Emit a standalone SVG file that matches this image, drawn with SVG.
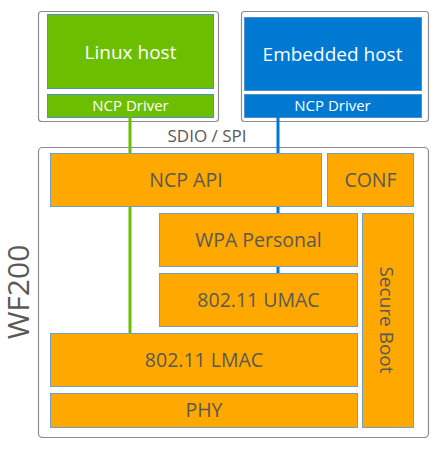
<svg xmlns="http://www.w3.org/2000/svg" width="438" height="449" viewBox="0 0 438 449">
<style>
.frame{fill:#fff;stroke:#8c8c8c;stroke-width:1.2}
.blk{fill:#FFA800;stroke:#6f9fc4;stroke-width:1}
.t{font-family:"Open Sans","Noto Sans",sans-serif;text-anchor:middle;fill:#595959}
.b{font-size:19.5px}
.w{fill:#fff}
.green{fill:#6CBF00;stroke:#4d8fcf;stroke-width:1}
.blue{fill:#0079D3;stroke:#4d8fcf;stroke-width:1}
</style>
<rect width="438" height="449" fill="#fff"/>
<g id="linux-host">
<rect class="frame" x="38.5" y="11.5" width="180" height="110" rx="3"/>
<rect class="green" x="47.5" y="14.5" width="166" height="74"/>
<text class="t w" x="130.5" y="59" font-size="19">Linux host</text>
</g>
<g id="linux-ncp-driver">
<rect class="green" x="47.5" y="94.5" width="166" height="23"/>
<text class="t w" x="130.5" y="111" font-size="15">NCP Driver</text>
</g>
<g id="embedded-host">
<rect class="frame" x="241.5" y="11.5" width="187" height="110" rx="3"/>
<rect class="blue" x="244.5" y="17.5" width="177" height="73"/>
<text class="t w" x="332.5" y="61" font-size="19">Embedded host</text>
</g>
<g id="embedded-ncp-driver">
<rect class="blue" x="244.5" y="94.5" width="177" height="23"/>
<text class="t w" x="332.5" y="111" font-size="15">NCP Driver</text>
</g>
<g id="wf200">
<rect class="frame" x="38.5" y="147.5" width="390" height="290" rx="4"/>
<text class="t" transform="translate(28.5,292) rotate(-90)" font-size="30">WF200</text>
</g>
<g id="connectors">
<line x1="130" y1="117" x2="130" y2="333" stroke="#6CBF00" stroke-width="3"/>
<line x1="278" y1="117" x2="278" y2="273" stroke="#0079D3" stroke-width="3"/>
</g>
<text class="t" x="207" y="141.5" font-size="17">SDIO / SPI</text>
<g id="ncp-api">
<rect class="blk" x="50.5" y="153.5" width="271" height="53"/>
<text class="t b" x="186" y="187">NCP API</text>
</g>
<g id="conf">
<rect class="blk" x="327.5" y="153.5" width="86" height="53"/>
<text class="t b" x="370.5" y="187">CONF</text>
</g>
<g id="wpa-personal">
<rect class="blk" x="159.5" y="213.5" width="198" height="53"/>
<text class="t b" x="258.5" y="247">WPA Personal</text>
</g>
<g id="umac">
<rect class="blk" x="159.5" y="273.5" width="198" height="53"/>
<text class="t b" x="258.5" y="307">802.11 UMAC</text>
</g>
<g id="lmac">
<rect class="blk" x="50.5" y="333.5" width="307" height="53"/>
<text class="t b" x="204" y="367">802.11 LMAC</text>
</g>
<g id="phy">
<rect class="blk" x="50.5" y="393.5" width="307" height="34"/>
<text class="t b" x="204" y="417">PHY</text>
</g>
<g id="secure-boot">
<rect class="blk" x="362.5" y="213.5" width="51" height="214"/>
<text class="t" transform="translate(380,320) rotate(90)" font-size="19">Secure Boot</text>
</g>
</svg>
